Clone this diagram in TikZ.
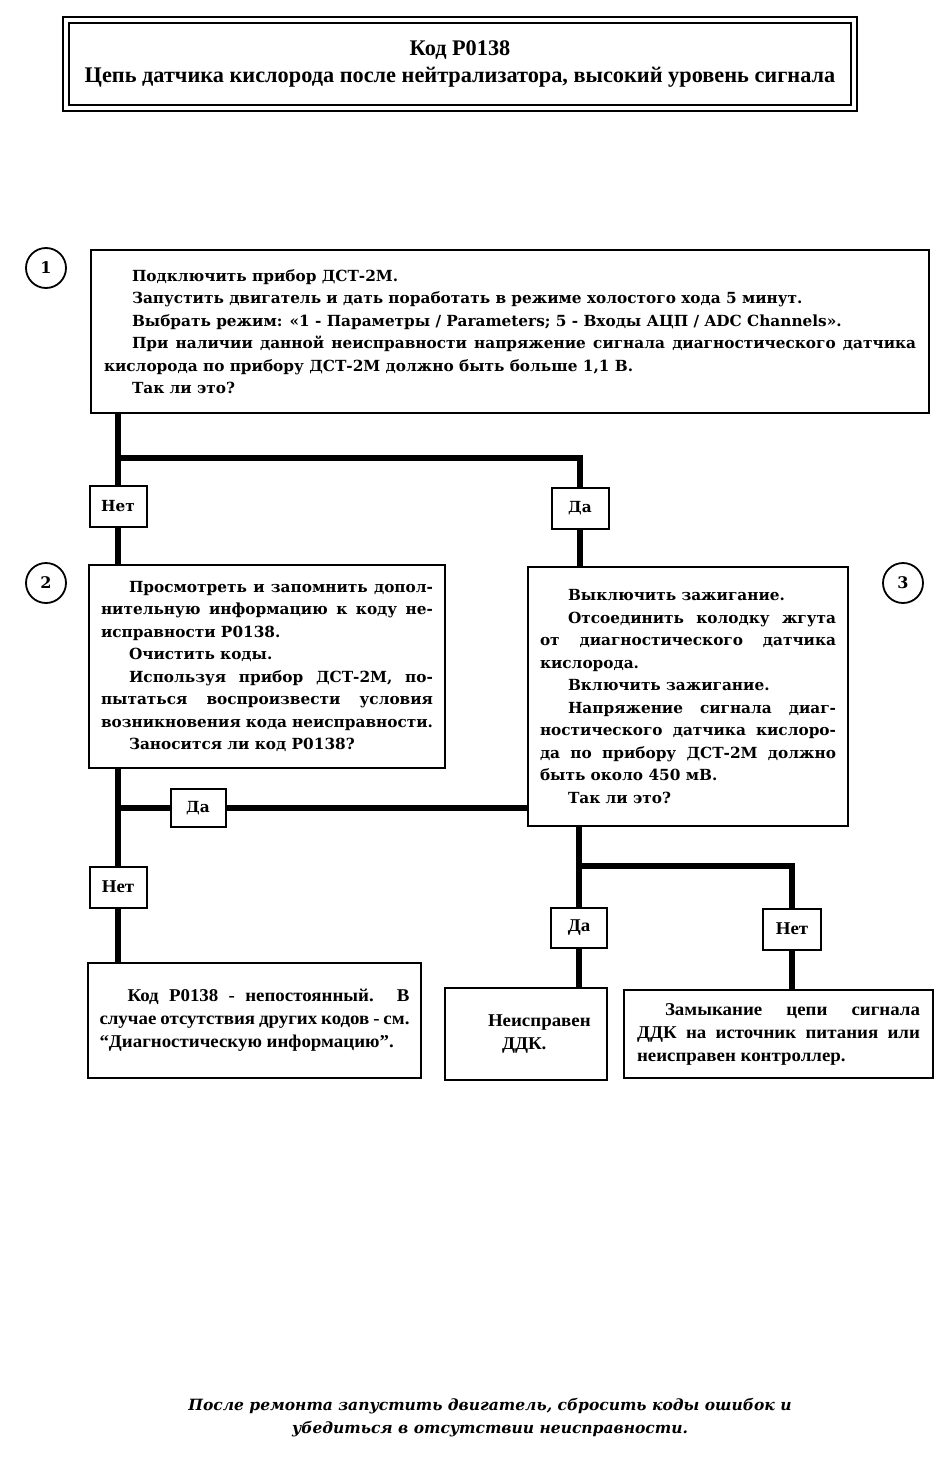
\documentclass[tikz,border=0pt]{standalone}
\usepackage{fontspec}
\setmainfont{DejaVu Serif}
\newfontfamily\condfont[FakeStretch=1.05]{Liberation Serif}
\newfontfamily\titlefont{Liberation Serif}
\usetikzlibrary{calc}
\hyphenpenalty=10000
\exhyphenpenalty=10000
\newlength\myind
\setlength\myind{28pt}
\newcommand\mainfnt{\bfseries\fontsize{15.3}{22.5}\selectfont}
\newcommand\condfnt{\condfont\bfseries\fontsize{18}{23}\selectfont}
\newcommand\PI{\hspace*{\myind}}
\tikzset{
  box/.style={draw, line width=2pt, fill=white, inner ysep=0pt, align=justify, font=\mainfnt},
  cbox/.style={box, font=\condfnt},
  lab/.style={draw, line width=2pt, fill=white, minimum width=57pt, minimum height=41pt, inner sep=0pt, font=\mainfnt},
  clab/.style={lab, font=\condfnt},
  conn/.style={line width=6pt, line join=miter},
  num/.style={draw, circle, line width=1.8pt, minimum size=40pt, inner sep=0pt, font=\bfseries\fontsize{16}{16}\selectfont}
}
\begin{document}
\begin{tikzpicture}[x=1pt,y=-1pt]
\useasboundingbox[fill=white] (0,0) rectangle (951,1464);

% title
\node[draw, line width=1.6pt, minimum width=782pt, minimum height=82pt, inner sep=0pt,
      align=center, font=\titlefont\bfseries\fontsize{22.3}{27}\selectfont] (title) at (460,64)
  {Код P0138\\Цепь датчика кислорода после нейтрализатора, высокий уровень сигнала};
\draw[line width=2pt] ($(title.north west)+(-5,-5)$) rectangle ($(title.south east)+(5,5)$);

% numbers
\node[num] (c1) at (46,268) {1};
\node[num] (c2) at (46,583) {2};
\node[num] (c3) at (903,583) {3};

% boxes
\node[box, text width=812pt, inner xsep=13pt, minimum height=163pt] (b1) at (510,331.5) {%
\PI Подключить прибор ДСТ-2М.\\
\PI Запустить двигатель и дать поработать в режиме холостого хода 5 минут.\\
\PI Выбрать режим: «1 - Параметры / Parameters; 5 - Входы АЦП / ADC Channels».\\
\PI При наличии данной неисправности напряжение сигнала диагностического датчика\linebreak
кислорода по прибору ДСТ-2М должно быть больше 1,1 В.\\
\PI Так ли это?};

\node[box, text width=332pt, inner xsep=12pt, minimum height=203pt] (b2) at (267,666.5) {%
\PI Просмотреть и запомнить допол-\linebreak
нительную информацию к коду не-\linebreak
исправности P0138.\\
\PI Очистить коды.\\
\PI Используя прибор ДСТ-2М, по-\linebreak
пытаться воспроизвести условия\linebreak
возникновения кода неисправности.\\
\PI Заносится ли код P0138?};

\node[box, text width=296pt, inner xsep=12pt, minimum height=259pt] (b3) at (688,696.5) {%
\PI Выключить зажигание.\\
\PI Отсоединить колодку жгута\linebreak
от диагностического датчика\linebreak
кислорода.\\
\PI Включить зажигание.\\
\PI Напряжение сигнала диаг-\linebreak
ностического датчика кислоро-\linebreak
да по прибору ДСТ-2М должно\linebreak
быть около 450 мВ.\\
\PI Так ли это?};

\node[cbox, text width=310pt, inner xsep=11.5pt, minimum height=115pt] (b4) at (254.5,1020.5) {%
\PI Код P0138 - непостоянный. В\linebreak
случае отсутствия других кодов - см.\linebreak
“Диагностическую информацию”.};

\node[cbox, text width=138pt, inner xsep=12pt, minimum height=92pt, align=left] (b5) at (526,1034) {%
\hspace*{31pt}Неисправен\\
\hspace*{45pt}ДДК.};

\node[cbox, text width=283pt, inner xsep=13pt, minimum height=88pt] (b6) at (778.5,1034) {%
\PI Замыкание цепи сигнала\linebreak
ДДК на источник питания или\linebreak
неисправен контроллер.};

% labels
\node[lab] (n1) at (118,506) {Нет};
\node[lab] (d1) at (580,508) {Да};
\node[lab, minimum width=55pt, minimum height=38pt] (d2) at (198,808) {Да};
\node[clab] (n2) at (118,887) {Нет};
\node[clab, minimum width=56pt, minimum height=40pt] (d3) at (579,928) {Да};
\node[clab, minimum width=58pt] (n3) at (792,929) {Нет};

\coordinate (j1) at (580,458);
\coordinate (j2) at (792,866);

% connectors
\begin{scope}[conn]
\draw (b1.south -| n1) -- (n1.north);
\draw (n1 |- j1) -- (j1) -- (d1.north);
\draw (n1.south) -- (n1 |- b2.north);
\draw (d1.south) -- (d1 |- b3.north);
\draw (b2.south -| n2) -- (n2.north);
\draw (n2.south) -- (n2 |- b4.north);
\draw (n2 |- d2) -- (d2.west);
\draw (d2.east) -- (d2 -| b3.west);
\draw (b3.south -| d3) -- (d3.north);
\draw (d3 |- j2) -- (j2) -- (n3.north);
\draw (d3.south) -- (d3 |- b5.north);
\draw (n3.south) -- (n3 |- b6.north);
\end{scope}

% footer
\node[align=center, font=\bfseries\itshape\fontsize{15.5}{23}\selectfont] (foot) at (490,1418)
  {После ремонта запустить двигатель, сбросить коды ошибок и\\убедиться в отсутствии неисправности.};
\end{tikzpicture}
\end{document}
